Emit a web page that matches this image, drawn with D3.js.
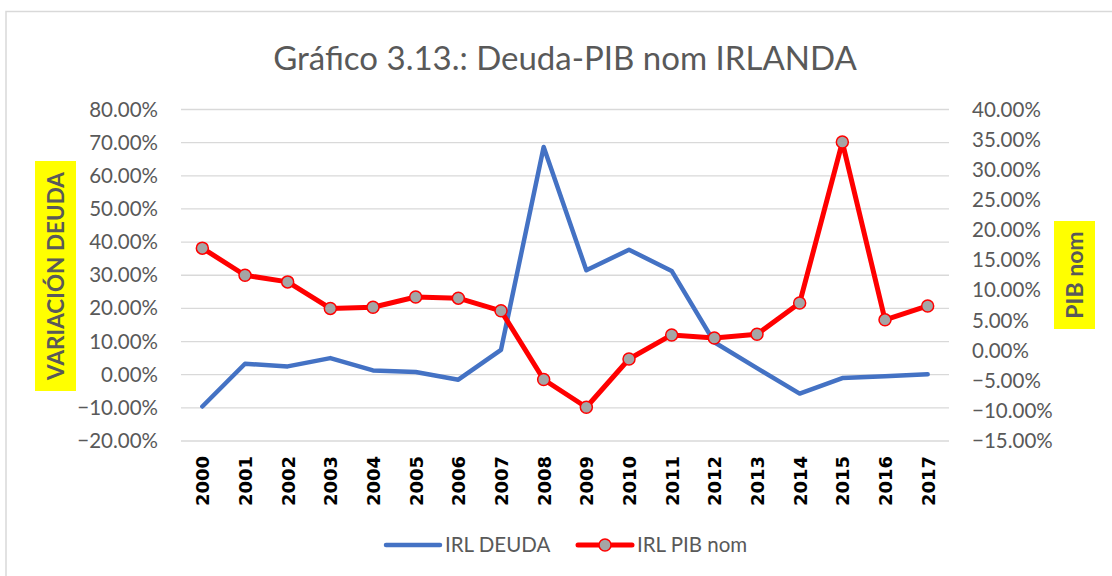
<!DOCTYPE html>
<html>
<head>
<meta charset="utf-8">
<script src="https://cdn.jsdelivr.net/npm/d3@7"></script>
<style>
  html, body { margin: 0; padding: 0; background: #fff; }
  svg { display: block; }
  text { font-family: Lato, "Open Sans", "Liberation Sans", sans-serif; }
</style>
</head>
<body>
<svg id="chart" width="1112" height="576"></svg>
<script>
const years = ["2000","2001","2002","2003","2004","2005","2006","2007","2008","2009","2010","2011","2012","2013","2014","2015","2016","2017"];
const deuda = [-0.096, 0.033, 0.025, 0.050, 0.013, 0.008, -0.015, 0.075, 0.687, 0.315, 0.377, 0.313, 0.098, 0.020, -0.057, -0.010, -0.005, 0.001];
const pib = [0.170, 0.125, 0.114, 0.070, 0.072, 0.089, 0.087, 0.066, -0.048, -0.094, -0.014, 0.026, 0.021, 0.027, 0.079, 0.346, 0.051, 0.074];
const leftTicks = [-0.2, -0.1, 0, 0.1, 0.2, 0.3, 0.4, 0.5, 0.6, 0.7, 0.8];
const rightTicks = [-0.15, -0.10, -0.05, 0, 0.05, 0.10, 0.15, 0.20, 0.25, 0.30, 0.35, 0.40];
const seriesNames = ["IRL DEUDA", "IRL PIB nom"];
const titleText = "Gráfico 3.13.: Deuda-PIB nom IRLANDA";
const leftTitle = "VARIACIÓN DEUDA";
const rightTitle = "PIB nom";

const svg = d3.select("#chart");
const plot = {left: 181, right: 949, top: 109.5, bottom: 441};
const grey = "#595959";
const blue = "#4472c4";
const red = "#ff0000";

// chart border
svg.append("rect").attr("x", 6).attr("y", 11.5).attr("width", 1200).attr("height", 700)
  .attr("fill", "none").attr("stroke", "#d9d9d9").attr("stroke-width", 1.5);

const x = d3.scalePoint().domain(years).range([plot.left, plot.right]).padding(0.5);
const yL = d3.scaleLinear().domain([-0.2, 0.8]).range([plot.bottom, plot.top]);
const yR = d3.scaleLinear().domain([-0.15, 0.4]).range([plot.bottom, plot.top]);
const pct = d3.format(".2%");

// title
svg.append("text").attr("x", 565).attr("y", 70).attr("text-anchor", "middle")
  .attr("font-size", 33).attr("fill", grey).text(titleText);

// gridlines
svg.append("g").selectAll("line").data(leftTicks).join("line")
  .attr("x1", plot.left).attr("x2", plot.right)
  .attr("y1", d => yL(d)).attr("y2", d => yL(d))
  .attr("stroke", "#d9d9d9").attr("stroke-width", 1.3);

// left axis
const axL = svg.append("g").attr("transform", `translate(${plot.left},0)`)
  .call(d3.axisLeft(yL).tickValues(leftTicks).tickFormat(pct).tickSize(0).tickPadding(23));
axL.select(".domain").remove();
axL.selectAll("text").attr("font-size", 20.5).attr("fill", grey)
  .style("font-family", "Lato, 'Open Sans', sans-serif");

// right axis
const axR = svg.append("g").attr("transform", `translate(${plot.right},0)`)
  .call(d3.axisRight(yR).tickValues(rightTicks).tickFormat(pct).tickSize(0).tickPadding(23));
axR.select(".domain").remove();
axR.selectAll("text").attr("font-size", 20.5).attr("fill", grey)
  .style("font-family", "Lato, 'Open Sans', sans-serif");

// x axis labels
const axX = svg.append("g").attr("transform", `translate(0,${plot.bottom})`)
  .call(d3.axisBottom(x).tickSize(0).tickPadding(0));
axX.select(".domain").remove();
axX.selectAll("text")
  .attr("transform", "rotate(-90)")
  .attr("x", -15).attr("y", 0).attr("dy", "0.36em")
  .attr("text-anchor", "end")
  .attr("font-size", 18).attr("font-weight", "bold").attr("fill", "#000")
  .style("font-family", "'DejaVu Sans', sans-serif");

// lines
const lineL = d3.line().x((d, i) => x(years[i])).y(d => yL(d));
const lineR = d3.line().x((d, i) => x(years[i])).y(d => yR(d));
svg.append("path").datum(deuda).attr("d", lineL).attr("fill", "none")
  .attr("stroke", blue).attr("stroke-width", 4.5).attr("stroke-linejoin", "round").attr("stroke-linecap", "round");
svg.append("path").datum(pib).attr("d", lineR).attr("fill", "none")
  .attr("stroke", red).attr("stroke-width", 5).attr("stroke-linejoin", "round").attr("stroke-linecap", "round");
svg.append("g").selectAll("circle").data(pib).join("circle")
  .attr("cx", (d, i) => x(years[i])).attr("cy", d => yR(d)).attr("r", 6)
  .attr("fill", "#a5a5a5").attr("stroke", red).attr("stroke-width", 1.5);

// axis titles with yellow boxes
svg.append("rect").attr("x", 35).attr("y", 161).attr("width", 41).attr("height", 230).attr("fill", "#ffff00");
svg.append("text").attr("transform", "translate(55.5,276) rotate(-90)").attr("text-anchor", "middle")
  .attr("dy", "0.36em").attr("font-size", 22.5).attr("font-weight", "bold").attr("fill", "#595959").text(leftTitle);
svg.append("rect").attr("x", 1054).attr("y", 221).attr("width", 41).attr("height", 108).attr("fill", "#ffff00");
svg.append("text").attr("transform", "translate(1074.5,275) rotate(-90)").attr("text-anchor", "middle")
  .attr("dy", "0.36em").attr("font-size", 23).attr("font-weight", "bold").attr("fill", "#595959").text(rightTitle);

// legend
const lg = svg.append("g");
lg.append("line").attr("x1", 386).attr("x2", 440).attr("y1", 545).attr("y2", 545)
  .attr("stroke", blue).attr("stroke-width", 4.5).attr("stroke-linecap", "round");
lg.append("text").attr("x", 445).attr("y", 545).attr("dy", "0.36em").attr("font-size", 20.5)
  .attr("fill", grey).text(seriesNames[0]);
lg.append("line").attr("x1", 578).attr("x2", 632).attr("y1", 545).attr("y2", 545)
  .attr("stroke", red).attr("stroke-width", 5).attr("stroke-linecap", "round");
lg.append("circle").attr("cx", 605).attr("cy", 545).attr("r", 6)
  .attr("fill", "#a5a5a5").attr("stroke", red).attr("stroke-width", 1.5);
lg.append("text").attr("x", 637).attr("y", 545).attr("dy", "0.36em").attr("font-size", 20.5)
  .attr("fill", grey).text(seriesNames[1]);
</script>
</body>
</html>
